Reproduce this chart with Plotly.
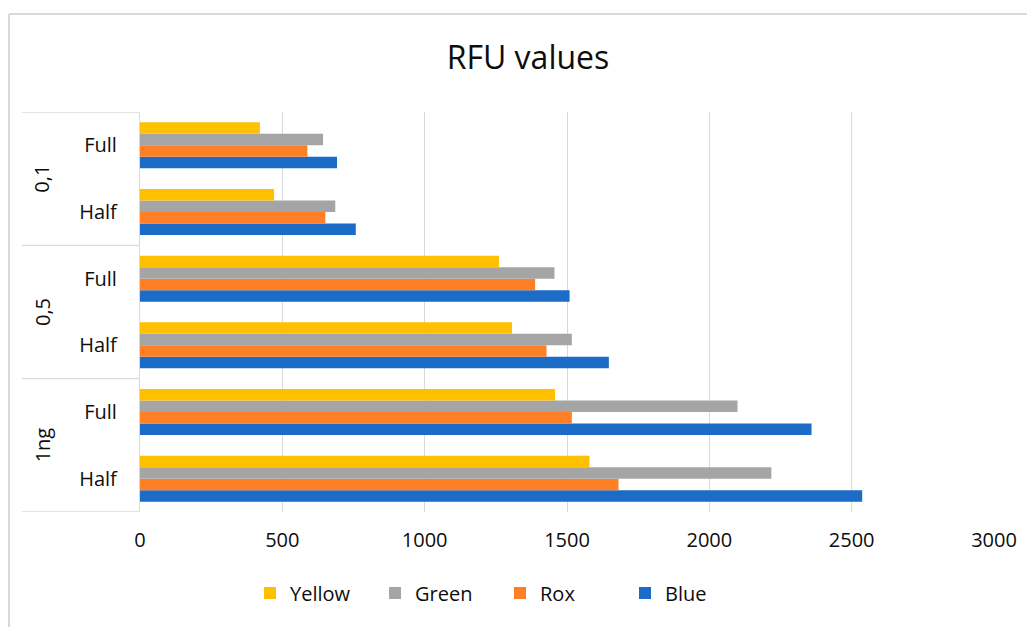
import plotly.graph_objects as go

# ---- data ----
groups = ["1ng", "1ng", "0,5", "0,5", "0,1", "0,1"]
subs = ["Half", "Full", "Half", "Full", "Half", "Full"]
series_names = ["Blue", "Rox", "Green", "Yellow"]
blue = [2537, 2359, 1647, 1509, 758, 692]
rox = [1681, 1517, 1428, 1388, 651, 588]
green = [2218, 2099, 1517, 1456, 686, 643]
yellow = [1579, 1458, 1307, 1261, 471, 421]
x_ticks = [0, 500, 1000, 1500, 2000, 2500, 3000]
group_labels = ["1ng", "0,5", "0,1"]

colors = {"Blue": "#1B6CC6", "Rox": "#FF7F27", "Green": "#A5A5A5", "Yellow": "#FFC000"}
values = {"Blue": blue, "Rox": rox, "Green": green, "Yellow": yellow}

cats = [g + " " + s for g, s in zip(groups, subs)]

# page has an 8px body margin; work in reference pixel coords and shift
OFF = 8
W, H = 1035 - OFF, 627 - OFF
PL, PR, PT, PB = 140, 994, 112, 512  # plot area in reference pixels
L = PL - OFF
R = W - (PR - OFF)
T = PT - OFF
B = H - (PB - OFF)
pw = PR - PL
ph = PB - PT

FONT = "Open Sans"
TXT = "#0d0d0d"
GRID = "#D9D9D9"

fig = go.Figure()
for name in series_names:
    fig.add_trace(go.Bar(
        y=cats, x=values[name], name=name, orientation="h",
        marker=dict(color=colors[name], line=dict(width=0)),
    ))

def px_x(p):
    return (p - PL) / pw

def px_y(p):
    return (PB - p) / ph

shapes = []
# group divider lines in the category box
for yv in [-0.5, 1.5, 3.5, 5.5]:
    shapes.append(dict(type="line", xref="paper", yref="y", x0=px_x(22), x1=0,
                       y0=yv, y1=yv, line=dict(color=GRID, width=1.3)))
# outer chart border (left and top visible)
shapes.append(dict(type="line", xref="paper", yref="paper", x0=px_x(9), x1=px_x(9),
                   y0=px_y(640), y1=px_y(14), line=dict(color=GRID, width=2)))
shapes.append(dict(type="line", xref="paper", yref="paper", x0=px_x(9), x1=px_x(1045),
                   y0=px_y(14), y1=px_y(14), line=dict(color=GRID, width=2)))

annotations = []
for i, g in enumerate(group_labels):
    annotations.append(dict(text=g, xref="paper", yref="y", x=px_x(42), y=2 * i + 0.5,
                            showarrow=False, textangle=-90,
                            font=dict(family=FONT, size=20, color=TXT),
                            xanchor="center", yanchor="middle"))

fig.update_layout(
    width=W, height=H,
    margin=dict(l=L, r=R, t=T, b=B),
    paper_bgcolor="white", plot_bgcolor="white",
    barmode="group", bargap=0.31, bargroupgap=0,
    title=dict(text="RFU values", x=(528 - OFF) / W, xref="container", xanchor="center",
               y=1 - (58 - OFF) / H, yref="container", yanchor="middle",
               font=dict(family=FONT, size=32, color=TXT)),
    xaxis=dict(range=[0, 3000], tickvals=x_ticks, showgrid=True, gridcolor=GRID,
               gridwidth=1.3, zeroline=False, showline=False, ticks="",
               tickfont=dict(family=FONT, size=20, color=TXT),
               ticklabelstandoff=14, fixedrange=True),
    yaxis=dict(type="category", categoryorder="array", categoryarray=cats,
               tickvals=cats, ticktext=subs, showgrid=False, zeroline=False,
               showline=True, linecolor=GRID, linewidth=1.3, ticks="",
               ticklabelstandoff=18,
               tickfont=dict(family=FONT, size=20, color=TXT),
               range=[-0.5, 5.5], fixedrange=True),
    legend=dict(orientation="h", traceorder="reversed", x=px_x(250), xanchor="left",
                y=px_y(593), yanchor="middle",
                font=dict(family=FONT, size=20, color=TXT),
                bgcolor="rgba(0,0,0,0)", entrywidth=80, itemclick=False),
    shapes=shapes, annotations=annotations,
    showlegend=True,
)

fig.write_html("out.html")
